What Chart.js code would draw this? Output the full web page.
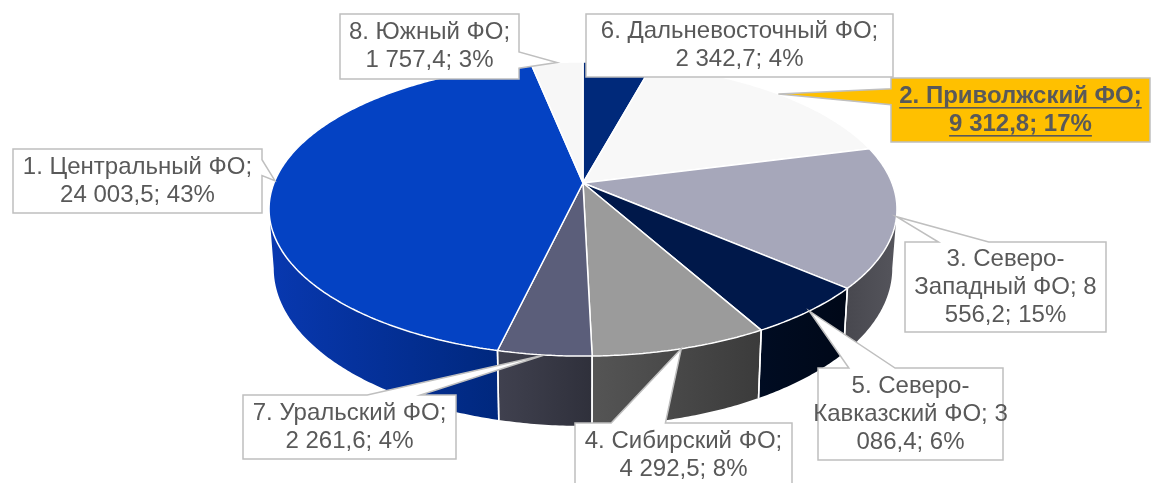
<!DOCTYPE html>
<html>
<head>
<meta charset="utf-8">
<script src="https://cdn.jsdelivr.net/npm/chart.js@4.4.1/dist/chart.umd.min.js"></script>
<style>
  html, body { margin: 0; padding: 0; background: #fff; }
  canvas { display: block; }
</style>
</head>
<body>
<canvas id="pie3d" width="1155" height="483"></canvas>
<script>
// federal districts, in the order the slices run clockwise from 12 o'clock
var regions = [
  "6. Дальневосточный ФО",
  "2. Приволжский ФО",
  "3. Северо-Западный ФО",
  "5. Северо-Кавказский ФО",
  "4. Сибирский ФО",
  "7. Уральский ФО",
  "1. Центральный ФО",
  "8. Южный ФО"
];
var values = [2342.7, 9312.8, 8556.2, 3086.4, 4292.5, 2261.6, 24003.5, 1757.4];

var topColors = ["#00297A", "#F8F8F8", "#A6A7BA", "#00184A", "#9B9B9B", "#5B5E7A", "#0442C3", "#F7F7F7"];
// side wall shading, left -> right
var sideColors = [
  ["#00206A", "#001A58"], ["#9A9A9A", "#8A8A8A"], ["#48484F", "#55555C"], ["#000C22", "#000818"],
  ["#555555", "#3B3B3B"], ["#40414F", "#2F303B"], ["#0838B0", "#00287E"], ["#9A9A9A", "#8A8A8A"]
];
// callout boxes: x, y, w, h, text wrap width
var labelBoxes = [
  [586, 14, 307, 63, 285],
  [891, 78, 259, 64, 250],
  [905, 242, 201, 90, 195],
  [818, 368, 185, 92, 200],
  [575, 423, 217, 64, 200],
  [243, 395, 213, 64, 205],
  [13, 149, 249, 64, 240],
  [340, 14, 179, 65, 170]
];
var highlighted = 1;

// tilt of the disc, perspective strength, wall height, bottom shrink
var view = { tilt: 0.461, persp: 0.177, depth: 0.186, shrink: 0.015 };
var FONT = "'Liberation Sans', Arial, sans-serif";
var total = values.reduce(function (a, b) { return a + b; }, 0);

function fmt(v) {
  var p = v.toFixed(1).split(".");
  return p[0].replace(/\B(?=(\d{3})+(?!\d))/g, " ") + "," + p[1];
}

// plane point of the flat pie -> screen point of the tilted disc
function project(el, px, py, z) {
  var R = el.outerRadius;
  var u = (px - el.x) / R, v = (py - el.y) / R;
  var s = 1 / (1 - view.persp * v);
  return {
    x: el.x + R * u * s * (1 - view.shrink * z),
    y: el.y + R * view.tilt * v * s + R * view.depth * z * s
  };
}

function rimPoint(el, a, z) {
  return project(el, el.x + el.outerRadius * Math.cos(a), el.y + el.outerRadius * Math.sin(a), z);
}

// route the arc element's path through the projection
function patchContext(ctx, el) {
  var proto = Object.getPrototypeOf(ctx);
  ctx.moveTo = function (x, y) { var p = project(el, x, y, 0); proto.moveTo.call(ctx, p.x, p.y); };
  ctx.lineTo = function (x, y) { var p = project(el, x, y, 0); proto.lineTo.call(ctx, p.x, p.y); };
  ctx.arc = function (cx, cy, r, a0, a1, ccw) {
    if (![cx, cy, r, a0, a1].every(isFinite)) return;
    if (r === 0) { ctx.lineTo(cx, cy); return; }
    var sweep = a1 - a0;
    if (ccw && sweep > 0) sweep -= 2 * Math.PI;
    if (!ccw && sweep < 0) sweep += 2 * Math.PI;
    var n = Math.max(2, Math.ceil(Math.abs(sweep) / 0.01));
    for (var i = 0; i <= n; i++) {
      var a = a0 + sweep * i / n;
      ctx.lineTo(cx + r * Math.cos(a), cy + r * Math.sin(a));
    }
  };
  return function () { delete ctx.moveTo; delete ctx.lineTo; delete ctx.arc; };
}

function drawWalls(ctx, arcs) {
  var el = arcs[0];
  var lo = Math.asin(view.persp), hi = Math.PI - lo;
  arcs.forEach(function (arc, i) {
    var a1 = Math.max(arc.startAngle, lo), a2 = Math.min(arc.endAngle, hi);
    if (a2 <= a1) return;
    var n = Math.max(2, Math.ceil((a2 - a1) / 0.01));
    var pts = [], k, p;
    ctx.beginPath();
    for (k = 0; k <= n; k++) { p = rimPoint(el, a1 + (a2 - a1) * k / n, 0); pts.push(p); ctx.lineTo(p.x, p.y); }
    for (k = n; k >= 0; k--) { p = rimPoint(el, a1 + (a2 - a1) * k / n, 1); ctx.lineTo(p.x, p.y); }
    ctx.closePath();
    var xs = pts.map(function (q) { return q.x; });
    var g = ctx.createLinearGradient(Math.min.apply(null, xs), 0, Math.max.apply(null, xs), 0);
    g.addColorStop(0, sideColors[i][0]);
    g.addColorStop(1, sideColors[i][1]);
    ctx.fillStyle = g;
    ctx.fill();
  });
  // white seams between walls
  ctx.strokeStyle = "#fff";
  ctx.lineWidth = 1.5;
  arcs.forEach(function (arc) {
    [arc.startAngle, arc.endAngle].forEach(function (a) {
      if (a <= lo || a >= hi) return;
      var t = rimPoint(el, a, 0), b = rimPoint(el, a, 1);
      ctx.beginPath();
      ctx.moveTo(t.x, t.y);
      ctx.lineTo(b.x, b.y);
      ctx.stroke();
    });
  });
}

function wrapText(ctx, text, maxW) {
  var tokens = text.match(/[^ -]*[ -]|[^ -]+$/g);
  var lines = [], line = "";
  tokens.forEach(function (t) {
    var test = line + t;
    if (line && ctx.measureText(test.trim()).width > maxW) {
      lines.push(line.trim());
      line = t;
    } else {
      line = test;
    }
  });
  if (line.trim()) lines.push(line.trim());
  return lines;
}

function drawCallout(ctx, i, apex) {
  var b = labelBoxes[i], x = b[0], y = b[1], w = b[2], h = b[3];
  var cx = x + w / 2, cy = y + h / 2;
  var dx = (apex.x - cx) / w, dy = (apex.y - cy) / h;
  var inside = Math.abs(dx) <= 0.5 && Math.abs(dy) <= 0.5;
  var side = inside ? "" : (Math.abs(dx) > Math.abs(dy) ? (dx > 0 ? "right" : "left") : (dy > 0 ? "bottom" : "top"));
  var fx = dx < 0 ? [1 / 6, 5 / 12] : [7 / 12, 5 / 6];
  var fy = dy < 0 ? [1 / 6, 5 / 12] : [7 / 12, 5 / 6];

  ctx.beginPath();
  ctx.moveTo(x, y);
  if (side === "top") { ctx.lineTo(x + w * fx[0], y); ctx.lineTo(apex.x, apex.y); ctx.lineTo(x + w * fx[1], y); }
  ctx.lineTo(x + w, y);
  if (side === "right") { ctx.lineTo(x + w, y + h * fy[0]); ctx.lineTo(apex.x, apex.y); ctx.lineTo(x + w, y + h * fy[1]); }
  ctx.lineTo(x + w, y + h);
  if (side === "bottom") { ctx.lineTo(x + w * fx[1], y + h); ctx.lineTo(apex.x, apex.y); ctx.lineTo(x + w * fx[0], y + h); }
  ctx.lineTo(x, y + h);
  if (side === "left") { ctx.lineTo(x, y + h * fy[1]); ctx.lineTo(apex.x, apex.y); ctx.lineTo(x, y + h * fy[0]); }
  ctx.closePath();
  ctx.fillStyle = i === highlighted ? "#FFC000" : "#fff";
  ctx.fill();
  ctx.strokeStyle = "#BFBFBF";
  ctx.lineWidth = 1.5;
  ctx.lineJoin = "miter";
  ctx.stroke();

  var bold = i === highlighted;
  ctx.font = (bold ? "bold " : "") + "24px " + FONT;
  ctx.fillStyle = "#595959";
  ctx.textAlign = "center";
  ctx.textBaseline = "middle";
  var pct = Math.round(values[i] / total * 100);
  var text = regions[i] + "; " + fmt(values[i]) + "; " + pct + "%";
  var lines = wrapText(ctx, text, b[4]);
  var lh = 28;
  lines.forEach(function (ln, k) {
    var ty = cy + (k - (lines.length - 1) / 2) * lh;
    ctx.fillText(ln, cx, ty);
    if (bold) {
      var lw = ctx.measureText(ln).width;
      ctx.fillRect(cx - lw / 2, ty + 11, lw, 1.6);
    }
  });
}

var pie3d = {
  id: "pie3d",
  beforeDatasetsDraw: function (chart) {
    var arcs = chart.getDatasetMeta(0).data;
    drawWalls(chart.ctx, arcs);
    chart.$unpatch = patchContext(chart.ctx, arcs[0]);
  },
  afterDatasetsDraw: function (chart) {
    if (chart.$unpatch) { chart.$unpatch(); chart.$unpatch = null; }
    var ctx = chart.ctx;
    var arcs = chart.getDatasetMeta(0).data;
    ctx.save();
    arcs.forEach(function (arc, i) {
      var apex = rimPoint(arcs[0], (arc.startAngle + arc.endAngle) / 2, 0);
      drawCallout(ctx, i, apex);
    });
    ctx.restore();
  }
};

new Chart(document.getElementById("pie3d"), {
  type: "pie",
  data: {
    labels: regions,
    datasets: [{
      data: values,
      backgroundColor: topColors,
      borderColor: "#fff",
      borderWidth: 1.5,
      clip: false
    }]
  },
  options: {
    responsive: false,
    animation: false,
    rotation: 0,
    radius: 309,
    layout: { padding: { left: 11, right: 0, top: 0, bottom: 117 } },
    plugins: {
      legend: { display: false },
      tooltip: { enabled: false }
    }
  },
  plugins: [pie3d]
});
</script>
</body>
</html>
